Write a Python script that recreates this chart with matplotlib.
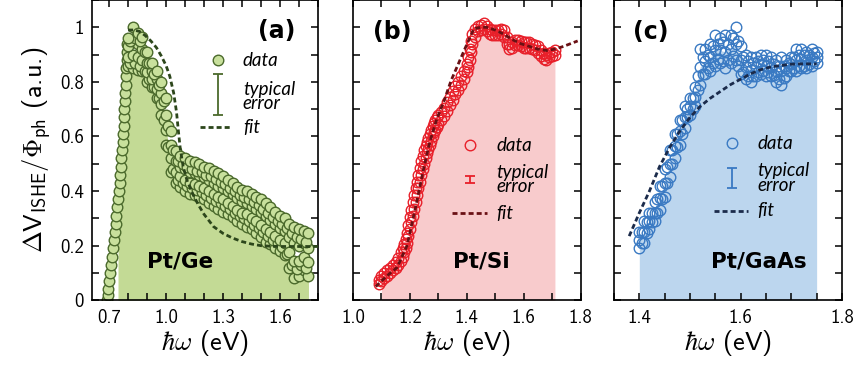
import numpy as np
import matplotlib
matplotlib.use("Agg")
import matplotlib.pyplot as plt
from matplotlib.ticker import FixedLocator, MultipleLocator, FuncFormatter

# ---------------------- Data ----------------------

# (a) Pt/Ge : steep rising edge, then a noisy band
ge_rise_x = [0.688, 0.692, 0.696, 0.701, 0.706, 0.711, 0.716, 0.721, 0.726, 0.730, 0.735,
             0.739, 0.743, 0.747, 0.751, 0.755, 0.759, 0.762, 0.765, 0.768, 0.771, 0.774,
             0.777, 0.779, 0.781, 0.783, 0.785, 0.787, 0.789, 0.791, 0.793, 0.795, 0.797]
ge_rise_y = [0.00, 0.02, 0.04, 0.07, 0.10, 0.13, 0.16, 0.19, 0.22, 0.25, 0.28,
             0.31, 0.34, 0.37, 0.40, 0.43, 0.46, 0.49, 0.52, 0.55, 0.58, 0.61,
             0.64, 0.67, 0.70, 0.73, 0.76, 0.79, 0.82, 0.85, 0.88, 0.91, 0.94]

ge_x = [0.80, 0.825, 0.85, 0.875, 0.90, 0.925, 0.95, 0.975, 1.00, 1.025, 1.05, 1.075, 1.10,
        1.125, 1.15, 1.175, 1.20, 1.225, 1.25, 1.275, 1.30, 1.325, 1.35, 1.375, 1.40, 1.425,
        1.45, 1.475, 1.50, 1.525, 1.55, 1.575, 1.60, 1.625, 1.65, 1.675, 1.70, 1.725, 1.75]
ge_hi = [0.96, 1.00, 0.98, 0.965, 0.91, 0.87, 0.84, 0.80, 0.74, 0.62, 0.545, 0.53, 0.52,
         0.51, 0.505, 0.50, 0.49, 0.485, 0.475, 0.465, 0.455, 0.44, 0.43, 0.415, 0.405, 0.40,
         0.39, 0.38, 0.37, 0.355, 0.34, 0.325, 0.31, 0.30, 0.28, 0.27, 0.26, 0.255, 0.245]
ge_m1 = [0.93, 0.95, 0.94, 0.92, 0.87, 0.84, 0.81, 0.76, 0.68, 0.57, 0.51, 0.49, 0.48,
         0.47, 0.465, 0.46, 0.45, 0.44, 0.43, 0.42, 0.41, 0.40, 0.39, 0.375, 0.365, 0.355,
         0.345, 0.335, 0.325, 0.31, 0.295, 0.28, 0.265, 0.255, 0.23, 0.21, 0.20, 0.21, 0.19]
ge_m2 = [0.89, 0.90, 0.89, 0.88, 0.835, 0.81, 0.775, 0.72, 0.625, 0.52, 0.47, 0.455, 0.44,
         0.43, 0.425, 0.42, 0.41, 0.40, 0.39, 0.38, 0.37, 0.355, 0.345, 0.33, 0.32, 0.315,
         0.30, 0.29, 0.275, 0.26, 0.25, 0.235, 0.22, 0.21, 0.175, 0.145, 0.145, 0.16, 0.14]
ge_lo = [0.86, 0.85, 0.845, 0.84, 0.80, 0.78, 0.74, 0.68, 0.57, 0.47, 0.43, 0.415, 0.40,
         0.39, 0.385, 0.38, 0.37, 0.355, 0.345, 0.335, 0.325, 0.315, 0.305, 0.29, 0.28, 0.27,
         0.26, 0.245, 0.23, 0.215, 0.205, 0.19, 0.18, 0.165, 0.12, 0.08, 0.09, 0.11, 0.09]

# second, staggered sweep of the same band
ge_x2 = [0.8125, 0.8375, 0.8625, 0.8875, 0.9125, 0.9375, 0.9625, 0.9875, 1.0125, 1.0375,
         1.0625, 1.0875, 1.1125, 1.1375, 1.1625, 1.1875, 1.2125, 1.2375, 1.2625, 1.2875,
         1.3125, 1.3375, 1.3625, 1.3875, 1.4125, 1.4375, 1.4625, 1.4875, 1.5125, 1.5375,
         1.5625, 1.5875, 1.6125, 1.6375, 1.6625, 1.6875, 1.7125, 1.7375]
ge_s1 = [0.95, 0.96, 0.95, 0.91, 0.87, 0.83, 0.79, 0.73, 0.64, 0.55, 0.51, 0.50, 0.49,
         0.48, 0.475, 0.47, 0.46, 0.455, 0.445, 0.435, 0.425, 0.41, 0.40, 0.385, 0.38,
         0.37, 0.36, 0.35, 0.335, 0.32, 0.305, 0.29, 0.28, 0.265, 0.245, 0.23, 0.225, 0.215]
ge_s2 = [0.87, 0.87, 0.86, 0.84, 0.81, 0.78, 0.74, 0.66, 0.56, 0.48, 0.44, 0.43, 0.42,
         0.41, 0.405, 0.395, 0.385, 0.375, 0.365, 0.355, 0.345, 0.335, 0.32, 0.31, 0.30,
         0.29, 0.275, 0.265, 0.25, 0.235, 0.22, 0.21, 0.195, 0.17, 0.13, 0.115, 0.13, 0.12]

ge_fit_x = [0.80, 0.83, 0.86, 0.89, 0.92, 0.95, 0.975, 1.00, 1.02, 1.04, 1.055, 1.065, 1.075,
            1.09, 1.11, 1.14, 1.17, 1.20, 1.25, 1.30, 1.35, 1.40, 1.45, 1.50, 1.55, 1.60,
            1.70, 1.80]
ge_fit_y = [0.99, 0.99, 0.985, 0.97, 0.95, 0.925, 0.895, 0.86, 0.82, 0.76, 0.69, 0.62, 0.555,
            0.49, 0.44, 0.39, 0.35, 0.315, 0.27, 0.245, 0.228, 0.215, 0.206, 0.20, 0.198, 0.197,
            0.197, 0.197]
ge_fill_from = 0.745

# (b) Pt/Si : two overlapping rows of open circles
si_x = [1.09, 1.10, 1.11, 1.12, 1.13, 1.14, 1.15, 1.16, 1.17,
        1.175, 1.18, 1.185, 1.19, 1.195, 1.20, 1.205, 1.21, 1.215, 1.22, 1.225, 1.23, 1.235,
        1.24, 1.245, 1.25, 1.255, 1.26, 1.265, 1.27, 1.275, 1.28, 1.285, 1.29, 1.295, 1.30,
        1.31, 1.32, 1.33, 1.34, 1.35, 1.36, 1.37, 1.38, 1.39, 1.40,
        1.405, 1.41, 1.415, 1.42,
        1.43, 1.44, 1.45, 1.46, 1.47, 1.48, 1.49, 1.50, 1.51, 1.52, 1.53, 1.54, 1.55, 1.56,
        1.57, 1.58, 1.59, 1.60, 1.61, 1.62, 1.63, 1.64, 1.65, 1.66, 1.67, 1.68, 1.69, 1.70, 1.71]
si_y1 = [0.075, 0.09, 0.10, 0.11, 0.12, 0.13, 0.14, 0.155, 0.175,
         0.19, 0.205, 0.225, 0.245, 0.275, 0.305, 0.33, 0.36, 0.385, 0.41, 0.435, 0.46, 0.485,
         0.51, 0.53, 0.55, 0.565, 0.58, 0.595, 0.61, 0.625, 0.64, 0.65, 0.66, 0.67, 0.678,
         0.69, 0.705, 0.725, 0.745, 0.765, 0.785, 0.80, 0.82, 0.84, 0.865,
         0.89, 0.92, 0.95, 0.975,
         0.995, 1.005, 1.01, 1.015, 1.005, 0.995, 0.99, 0.99, 0.99, 0.995, 0.99, 0.965, 0.94, 0.945,
         0.955, 0.955, 0.95, 0.945, 0.945, 0.945, 0.94, 0.935, 0.93, 0.915, 0.905, 0.90, 0.905, 0.91, 0.915]
si_y2 = [0.06, 0.07, 0.08, 0.09, 0.10, 0.11, 0.12, 0.13, 0.145,
         0.16, 0.175, 0.19, 0.21, 0.235, 0.26, 0.285, 0.31, 0.335, 0.36, 0.385, 0.41, 0.435,
         0.46, 0.48, 0.50, 0.52, 0.54, 0.555, 0.57, 0.585, 0.60, 0.615, 0.625, 0.635, 0.645,
         0.66, 0.675, 0.695, 0.715, 0.735, 0.755, 0.77, 0.79, 0.81, 0.835,
         0.855, 0.88, 0.91, 0.94,
         0.965, 0.985, 0.99, 0.995, 0.985, 0.975, 0.97, 0.97, 0.97, 0.975, 0.965, 0.94, 0.92, 0.925,
         0.935, 0.935, 0.93, 0.925, 0.925, 0.925, 0.92, 0.915, 0.905, 0.895, 0.885, 0.88, 0.89, 0.895, 0.90]

si_fit_x = [1.08, 1.12, 1.155, 1.19, 1.22, 1.25, 1.27, 1.295, 1.32, 1.345, 1.37, 1.395, 1.425,
            1.45, 1.47, 1.50, 1.53, 1.56, 1.59, 1.62, 1.65, 1.68, 1.71, 1.74, 1.765, 1.79]
si_fit_y = [0.05, 0.09, 0.12, 0.20, 0.34, 0.49, 0.58, 0.665, 0.73, 0.805, 0.865, 0.925, 0.995,
            1.0, 1.0, 0.99, 0.975, 0.955, 0.94, 0.93, 0.92, 0.915, 0.92, 0.93, 0.94, 0.95]
si_fill_from = 1.10

# (c) Pt/GaAs : open circles, two staggered sweeps
gaas_x = [1.40, 1.41, 1.42, 1.43, 1.44, 1.45, 1.46, 1.47, 1.48, 1.49, 1.50, 1.51, 1.52,
          1.53, 1.54, 1.55, 1.56, 1.57, 1.58, 1.59, 1.60, 1.61, 1.62, 1.63, 1.64, 1.65,
          1.66, 1.67, 1.68, 1.69, 1.70, 1.71, 1.72, 1.73, 1.74, 1.75]
gaas_hi = [0.25, 0.29, 0.32, 0.36, 0.42, 0.48, 0.55, 0.61, 0.66, 0.71, 0.74, 0.78, 0.92,
           0.92, 0.94, 0.97, 0.96, 0.97, 0.97, 1.00, 0.93, 0.90, 0.89, 0.89, 0.90, 0.90,
           0.89, 0.88, 0.89, 0.88, 0.89, 0.92, 0.92, 0.91, 0.92, 0.91]
gaas_mid = [0.22, 0.25, 0.29, 0.32, 0.375, 0.43, 0.50, 0.565, 0.62, 0.67, 0.71, 0.745, 0.855,
            0.875, 0.89, 0.915, 0.915, 0.91, 0.92, 0.94, 0.88, 0.855, 0.845, 0.855, 0.865, 0.86,
            0.855, 0.84, 0.84, 0.85, 0.865, 0.88, 0.885, 0.88, 0.89, 0.89]
gaas_lo = [0.19, 0.21, 0.26, 0.29, 0.33, 0.38, 0.45, 0.52, 0.57, 0.63, 0.68, 0.71, 0.79,
           0.83, 0.84, 0.86, 0.87, 0.85, 0.87, 0.88, 0.83, 0.81, 0.80, 0.82, 0.83, 0.82,
           0.82, 0.80, 0.79, 0.82, 0.84, 0.84, 0.85, 0.85, 0.86, 0.87]

gaas_x2 = [1.405, 1.415, 1.425, 1.435, 1.445, 1.455, 1.465, 1.475, 1.485, 1.495, 1.505, 1.515,
           1.525, 1.535, 1.545, 1.555, 1.565, 1.575, 1.585, 1.595, 1.605, 1.615, 1.625, 1.635,
           1.645, 1.655, 1.665, 1.675, 1.685, 1.695, 1.705, 1.715, 1.725, 1.735, 1.745]
gaas_s1 = [0.25, 0.285, 0.32, 0.37, 0.42, 0.49, 0.55, 0.61, 0.66, 0.70, 0.74, 0.82,
           0.89, 0.90, 0.93, 0.94, 0.945, 0.94, 0.96, 0.95, 0.89, 0.875, 0.87, 0.875,
           0.88, 0.875, 0.865, 0.86, 0.86, 0.87, 0.89, 0.90, 0.90, 0.90, 0.905]
gaas_s2 = [0.21, 0.245, 0.285, 0.32, 0.37, 0.43, 0.50, 0.56, 0.61, 0.67, 0.70, 0.77,
           0.83, 0.85, 0.87, 0.885, 0.875, 0.88, 0.895, 0.86, 0.835, 0.82, 0.82, 0.835,
           0.84, 0.835, 0.825, 0.81, 0.815, 0.84, 0.85, 0.86, 0.86, 0.865, 0.875]

gaas_fit_x = [1.38, 1.40, 1.42, 1.44, 1.46, 1.48, 1.50, 1.52, 1.54, 1.56, 1.58, 1.60, 1.62,
              1.64, 1.66, 1.68, 1.70, 1.72, 1.75]
gaas_fit_y = [0.235, 0.32, 0.40, 0.49, 0.56, 0.62, 0.67, 0.71, 0.74, 0.765, 0.79, 0.81, 0.83,
              0.845, 0.855, 0.86, 0.865, 0.866, 0.866]
gaas_fill_from = 1.40

# axes / ticks
ge_xlim, si_xlim, gaas_xlim = (0.61, 1.80), (1.0, 1.8), (1.35, 1.8)
ge_xticks = [0.7, 1.0, 1.3, 1.6]
si_xticks = [1.0, 1.2, 1.4, 1.6, 1.8]
gaas_xticks = [1.4, 1.6, 1.8]
yticks = [0, 0.2, 0.4, 0.6, 0.8, 1.0]

# ---------------------- Style ----------------------

plt.rcParams["font.family"] = "cmss10"
plt.rcParams["mathtext.fontset"] = "cm"
plt.rcParams["axes.unicode_minus"] = False
plt.rcParams["axes.formatter.use_mathtext"] = True

GREEN_FILL, GREEN_FACE, GREEN_EDGE, GREEN_FIT = "#c3da95", "#c8e09c", "#4b6a2c", "#2c461b"
RED_FILL, RED_EDGE, RED_FIT = "#f8cbcc", "#e8202a", "#6a1014"
BLUE_FILL, BLUE_EDGE, BLUE_FIT = "#bcd6ee", "#3a7ac3", "#1b2b4b"

MS = 7.6
DASH = (1.8, 1.1)
ITAL = dict(family="Lato", style="italic", fontsize=13.5)
BOLD = dict(family="DejaVu Sans", fontweight="bold")


def style_axes(ax, xlim, xticks, xminor, show_ylabels):
    ax.set_xlim(*xlim)
    ax.set_ylim(0, 1.1)
    ax.xaxis.set_major_locator(FixedLocator(xticks))
    ax.xaxis.set_minor_locator(MultipleLocator(xminor))
    ax.xaxis.set_major_formatter(FuncFormatter(lambda v, p: f"{v:.1f}"))
    ax.yaxis.set_major_locator(FixedLocator(yticks))
    ax.yaxis.set_minor_locator(MultipleLocator(0.1))
    ax.yaxis.set_major_formatter(FuncFormatter(lambda v, p: f"{v:g}"))
    ax.tick_params(which="both", direction="in", top=True, right=True,
                   length=5, width=1.1, labelsize=13.5)
    ax.tick_params(axis="x", pad=6)
    ax.tick_params(axis="y", pad=6, labelleft=show_ylabels)
    for s in ax.spines.values():
        s.set_linewidth(1.2)
    ax.set_xlabel(r"$\hbar\omega$ (eV)", fontsize=19, labelpad=1)


def legend_block(ax, mx, my, tx, err_y, err_h, fit_x0, fit_x1, fit_y, ty,
                 face, edge, fitc):
    ax.plot([mx], [my], "o", ms=MS, mfc=face, mec=edge, mew=1.0,
            transform=ax.transAxes, clip_on=False)
    ax.text(tx, my, "data", va="center", ha="left", transform=ax.transAxes, **ITAL)
    ax.errorbar([mx], [err_y], yerr=[err_h], fmt="none", ecolor=edge, elinewidth=1.3,
                capsize=3.5, capthick=1.3, transform=ax.transAxes)
    ax.text(tx, ty, "typical\nerror", va="center", ha="left", linespacing=0.8,
            transform=ax.transAxes, **ITAL)
    ax.plot([fit_x0, fit_x1], [fit_y, fit_y], color=fitc, lw=2.0, dashes=DASH,
            transform=ax.transAxes)
    ax.text(tx, fit_y, "fit", va="center", ha="left", transform=ax.transAxes, **ITAL)


fig = plt.figure(figsize=(8.58, 3.73), dpi=100)
ax_a = fig.add_axes([0.1072, 0.195, 0.2634, 0.805])
ax_b = fig.add_axes([0.4114, 0.195, 0.2652, 0.805])
ax_c = fig.add_axes([0.7156, 0.195, 0.2657, 0.805])

# ---------------------- (a) Pt/Ge ----------------------
fx = np.array(ge_rise_x + ge_x)
fy = np.array(ge_rise_y + ge_m2)
ax_a.fill_between(fx, 0, fy, where=fx >= ge_fill_from, color=GREEN_FILL, lw=0, zorder=1)
ge_sets = [(ge_rise_x, ge_rise_y), (ge_x, ge_lo), (ge_x2, ge_s2), (ge_x, ge_m2),
           (ge_x, ge_m1), (ge_x2, ge_s1), (ge_x, ge_hi)]
for xs, ys in ge_sets:
    ax_a.plot(xs, ys, "o", ls="none", ms=MS, mfc=GREEN_FACE, mec=GREEN_EDGE, mew=1.0, zorder=2)
ax_a.plot(ge_fit_x, ge_fit_y, color=GREEN_FIT, lw=2.0, dashes=DASH, zorder=3)
style_axes(ax_a, ge_xlim, ge_xticks, 0.1, True)
ax_a.set_ylabel(r"$\Delta\mathsf{V}_{\mathsf{ISHE}}/\Phi_{\mathsf{ph}}$ (a.u.)", fontsize=19, labelpad=5)
ax_a.text(0.898, 0.897, "(a)", transform=ax_a.transAxes, ha="right", va="center",
          fontsize=17, **BOLD)
ax_a.text(0.389, 0.13, "Pt/Ge", transform=ax_a.transAxes, ha="center", va="center",
          fontsize=15.5, **BOLD)
legend_block(ax_a, 0.559, 0.80, 0.668, 0.685, 0.068, 0.478, 0.62, 0.577, 0.678,
             GREEN_FACE, GREEN_EDGE, GREEN_FIT)

# ---------------------- (b) Pt/Si ----------------------
sx = np.array(si_x)
ax_b.fill_between(sx, 0, si_y2, where=sx >= si_fill_from, color=RED_FILL, lw=0, zorder=1)
for ys in (si_y2, si_y1):
    ax_b.plot(si_x, ys, "o", ls="none", ms=MS, mfc="none", mec=RED_EDGE, mew=1.0, zorder=2)
ax_b.plot(si_fit_x, si_fit_y, color=RED_FIT, lw=2.0, dashes=DASH, zorder=3)
style_axes(ax_b, si_xlim, si_xticks, 0.1, False)
ax_b.text(0.089, 0.894, "(b)", transform=ax_b.transAxes, ha="left", va="center",
          fontsize=17, **BOLD)
ax_b.text(0.563, 0.13, "Pt/Si", transform=ax_b.transAxes, ha="center", va="center",
          fontsize=15.5, **BOLD)
legend_block(ax_b, 0.514, 0.517, 0.629, 0.401, 0.012, 0.434, 0.588, 0.29, 0.401,
             "none", RED_EDGE, RED_FIT)

# ---------------------- (c) Pt/GaAs ----------------------
gx = np.array(gaas_x)
ax_c.fill_between(gx, 0, gaas_mid, where=gx >= gaas_fill_from, color=BLUE_FILL, lw=0, zorder=1)
gaas_sets = [(gaas_x, gaas_lo), (gaas_x2, gaas_s2), (gaas_x, gaas_mid),
             (gaas_x2, gaas_s1), (gaas_x, gaas_hi)]
for xs, ys in gaas_sets:
    ax_c.plot(xs, ys, "o", ls="none", ms=MS, mfc="none", mec=BLUE_EDGE, mew=1.0, zorder=2)
ax_c.plot(gaas_fit_x, gaas_fit_y, color=BLUE_FIT, lw=2.0, dashes=DASH, zorder=3)
style_axes(ax_c, gaas_xlim, gaas_xticks, 0.05, False)
ax_c.text(0.085, 0.894, "(c)", transform=ax_c.transAxes, ha="left", va="center",
          fontsize=17, **BOLD)
ax_c.text(0.636, 0.13, "Pt/GaAs", transform=ax_c.transAxes, ha="center", va="center",
          fontsize=15.5, **BOLD)
legend_block(ax_c, 0.519, 0.523, 0.629, 0.407, 0.034, 0.44, 0.589, 0.298, 0.407,
             "none", BLUE_EDGE, BLUE_FIT)

fig.savefig("out.png", dpi=100)
